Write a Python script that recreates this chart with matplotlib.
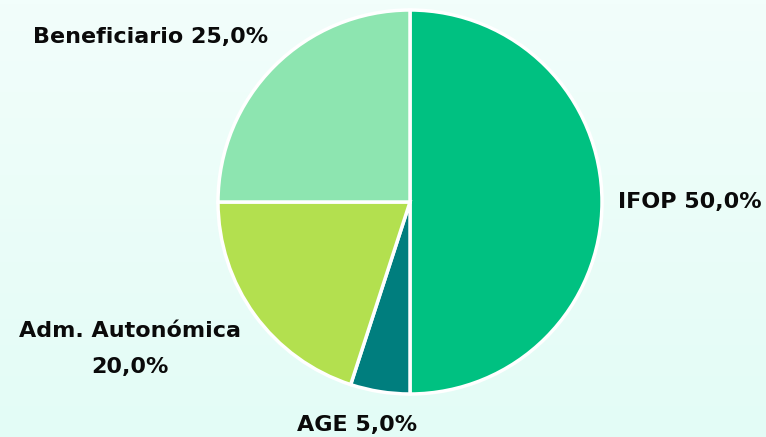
import numpy as np
import matplotlib
matplotlib.use("Agg")
import matplotlib.pyplot as plt
from matplotlib.colors import LinearSegmentedColormap

# data
categories = ["IFOP", "AGE", "Adm. Autonómica", "Beneficiario"]
shares = [50.0, 5.0, 20.0, 25.0]
colors = ["#00c181", "#007e7e", "#b3e04f", "#8de5b0"]

# label layout (pixel coords, y up) and text form
label_pos = [(690, 235), (357, 12), (130, 88), (151, 400)]
label_fmt = ["{} {}", "{} {}", "{}\n{}", "{} {}"]

W, H = 766, 437
fig = plt.figure(figsize=(W / 100, H / 100), dpi=100)
ax = fig.add_axes([0, 0, 1, 1])
ax.set_xlim(0, W)
ax.set_ylim(0, H)
ax.axis("off")

# soft mint background gradient
bg = LinearSegmentedColormap.from_list("bg", ["#e3fcf6", "#f2fefb"])
ax.imshow(np.linspace(0, 1, 100).reshape(-1, 1), cmap=bg, aspect="auto",
          extent=[0, W, 0, H], origin="lower", zorder=0)

ax.pie(shares, colors=colors, startangle=90, counterclock=False,
       center=(410, 235), radius=192, frame=True,
       wedgeprops=dict(edgecolor="white", linewidth=2.5))
ax.set_xlim(0, W)
ax.set_ylim(0, H)
ax.axis("off")

for cat, val, (x, y), fmt in zip(categories, shares, label_pos, label_fmt):
    txt = fmt.format(cat, f"{val:.1f}%".replace(".", ","))
    ax.text(x, y, txt, ha="center", va="center", fontsize=16,
            fontweight="bold", family="DejaVu Sans", color="#0a0a0a",
            linespacing=2.05)

fig.savefig("out.png", dpi=100)
